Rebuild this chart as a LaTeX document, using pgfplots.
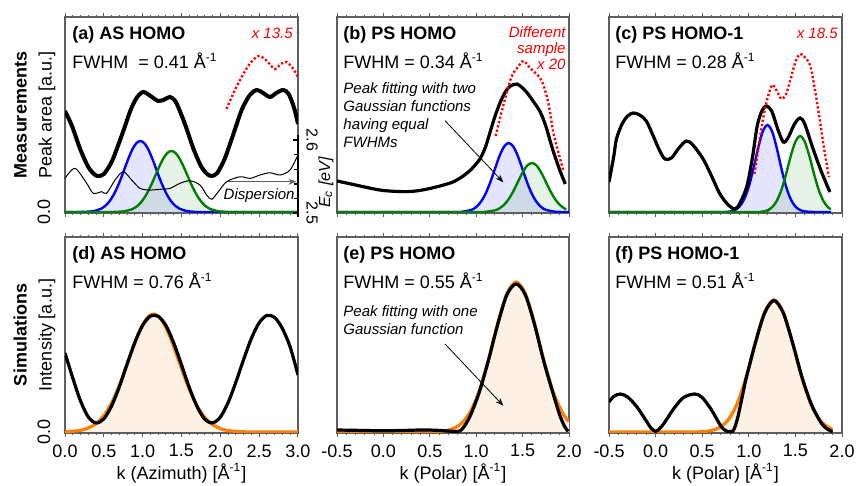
\documentclass[border=0pt]{standalone}
\usepackage{fontspec}
\setmainfont{Liberation Sans}
\usepackage{pgfplots}
\pgfplotsset{compat=1.18}
\usetikzlibrary{arrows.meta}
\definecolor{frame}{RGB}{95,95,95}
\definecolor{mblue}{RGB}{0,0,255}
\definecolor{mgreen}{RGB}{0,128,0}
\definecolor{morange}{RGB}{255,128,0}
\definecolor{bfill}{RGB}{0,0,255}
\definecolor{gfill}{RGB}{0,128,0}
\definecolor{ofill}{RGB}{253,240,228}
\newcommand{\fnt}{\fontsize{9}{12.5}\selectfont}
\newcommand{\sfnt}{\fontsize{7.5}{9}\selectfont}
\pgfplotsset{
  panel/.style={
    scale only axis, width=116.5pt, height=98pt, anchor=south west,
    axis line style={frame, line width=0.6pt},
    tick style={frame, line width=0.5pt},
    tick align=outside, xtick pos=both,
    major tick length=2.2pt, minor tick length=1.2pt,
    minor x tick num=4,
    ymin=-1, ymax=195,
    ytick=\empty,
    every tick label/.append style={font=\fnt},
    xticklabel style={/pgf/number format/fixed, /pgf/number format/fixed zerofill, /pgf/number format/precision=1, /pgf/number format/assume math mode=true},
    yticklabel style={/pgf/number format/fixed, /pgf/number format/fixed zerofill, /pgf/number format/precision=1, /pgf/number format/assume math mode=true},
    label style={font=\fnt},
    x label style={at={(rel axis cs:0.5,0)}, anchor=center, yshift=-20pt},
  },
  firstcol/.style={
    ytick={0}, ytick pos=left, ytick style={draw=none},
    yticklabel style={rotate=90, anchor=south, inner sep=0pt},
    yticklabel shift=5pt,
    y label style={at={(rel axis cs:-0.04,0.5)}, anchor=south, inner sep=0pt, align=center, rotate=0},
  },
  azi/.style={xmin=0, xmax=3, xtick={0,0.5,...,3}},
  pol/.style={xmin=-0.5, xmax=2, xtick={-0.5,0,...,2}},
  blk/.style={black, line width=1.6pt, smooth},
  dots/.style={red, line width=1.2pt, dash pattern=on 1.1pt off 1.1pt, smooth},
  gb/.style={mblue, line width=1.2pt, smooth},
  gg/.style={mgreen, line width=1.2pt, smooth},
  gbf/.style={draw=none, fill=bfill, fill opacity=0.1, smooth},
  ggf/.style={draw=none, fill=gfill, fill opacity=0.1, smooth},
  gof/.style={draw=none, fill=ofill, smooth},
  go/.style={morange, line width=1.6pt, smooth},
}
\begin{document}
\begin{tikzpicture}
\path[use as bounding box] (0,0) rectangle (428pt,243pt);

% ---------------- (a) ----------------
\begin{axis}[panel, firstcol, azi, at={(32.5pt,136.5pt)}, xticklabels={},
  ylabel={\textbf{Measurements}\\Peak area [a.u.]}]
\addplot[gbf] coordinates {(0,0) (0.17,0) (0.27,0.2) (0.37,0.9) (0.47,3.5) (0.52,6.2) (0.57,10.4) (0.62,16.3) (0.67,24.1) (0.72,33.4) (0.77,43.9) (0.82,54.2) (0.87,63.0) (0.92,68.9) (0.97,71) (1.02,68.9) (1.07,63.0) (1.12,54.2) (1.17,43.9) (1.22,33.4) (1.27,24.1) (1.32,16.3) (1.37,10.4) (1.42,6.2) (1.47,3.5) (1.57,0.9) (1.67,0.2) (1.77,0) (3,0)} \closedcycle;
\addplot[ggf] coordinates {(0,0) (0.57,0) (0.67,0.17) (0.77,0.8) (0.87,3.0) (0.92,5.3) (0.97,8.9) (1.02,14.0) (1.07,20.7) (1.12,28.7) (1.17,37.7) (1.22,46.5) (1.27,54.1) (1.32,59.2) (1.37,61) (1.42,59.2) (1.47,54.1) (1.52,46.5) (1.57,37.7) (1.62,28.7) (1.67,20.7) (1.72,14.0) (1.77,8.9) (1.82,5.3) (1.87,3.0) (1.97,0.8) (2.07,0.17) (2.17,0) (3,0)} \closedcycle;
\addplot[gb] coordinates {(0,0) (0.17,0) (0.27,0.2) (0.37,0.9) (0.47,3.5) (0.52,6.2) (0.57,10.4) (0.62,16.3) (0.67,24.1) (0.72,33.4) (0.77,43.9) (0.82,54.2) (0.87,63.0) (0.92,68.9) (0.97,71) (1.02,68.9) (1.07,63.0) (1.12,54.2) (1.17,43.9) (1.22,33.4) (1.27,24.1) (1.32,16.3) (1.37,10.4) (1.42,6.2) (1.47,3.5) (1.57,0.9) (1.67,0.2) (1.77,0) (3,0)};
\addplot[gg] coordinates {(0,0) (0.57,0) (0.67,0.17) (0.77,0.8) (0.87,3.0) (0.92,5.3) (0.97,8.9) (1.02,14.0) (1.07,20.7) (1.12,28.7) (1.17,37.7) (1.22,46.5) (1.27,54.1) (1.32,59.2) (1.37,61) (1.42,59.2) (1.47,54.1) (1.52,46.5) (1.57,37.7) (1.62,28.7) (1.67,20.7) (1.72,14.0) (1.77,8.9) (1.82,5.3) (1.87,3.0) (1.97,0.8) (2.07,0.17) (2.17,0) (3,0)};
\addplot[blk, line width=2pt] coordinates {(0,101) (0.05,93) (0.1,84) (0.2,62) (0.3,45) (0.38,37.5) (0.43,36) (0.5,38) (0.6,50) (0.7,70) (0.76,83) (0.85,103) (0.93,115) (1.01,120) (1.1,116) (1.2,111) (1.28,112.5) (1.35,115) (1.42,111) (1.5,97) (1.567,83) (1.65,64) (1.75,46) (1.83,38) (1.89,36) (1.96,39) (2.05,52) (2.12,67) (2.19,83) (2.28,103) (2.38,117) (2.47,122) (2.55,119) (2.64,115) (2.72,119) (2.81,122) (2.88,118) (2.95,104) (3.0,88)};
\addplot[dots] coordinates {(2.08,103) (2.2,124) (2.35,145) (2.45,154) (2.51,156) (2.6,151) (2.7,143) (2.78,148) (2.85,150) (2.93,144) (3.0,135)};
\draw[-{Stealth[length=4pt,width=3pt]}, frame, line width=0.7pt] (axis cs:2.08,30.3) -- (axis cs:2.98,30.3);
\node[font=\itshape\sfnt, inner sep=0pt] at (axis cs:2.5,16) {Dispersion};
\node[anchor=west, inner sep=0pt, font=\bfseries\fnt] at (rel axis cs:0.03,0.908) {(a) AS HOMO};
\node[anchor=west, inner sep=0pt, font=\fnt] at (rel axis cs:0.03,0.776) {FWHM\ \ = 0.41 Å\textsuperscript{-1}};
\node[anchor=east, inner sep=0pt, text=red, font=\itshape\sfnt] at (rel axis cs:0.979,0.918) {x 13.5};
\end{axis}

% E_c axis
\begin{axis}[scale only axis, width=116.5pt, height=41pt, at={(32.5pt,134.5pt)}, anchor=south west,
  xmin=0, xmax=3, ymin=2.4945, ymax=2.607,
  axis x line=none, axis y line*=right,
  y axis line style={black, line width=1.2pt, -},
  ytick={2.5,2.6}, minor ytick={2.52,2.54,2.56,2.58},
  tick align=inside, ytick style={black, line width=0.7pt},
  major tick length=2.5pt, minor tick length=2pt,
  yticklabel shift=3pt,
  yticklabel style={rotate=-90, anchor=south, inner sep=1pt, font=\fontsize{8}{9}\selectfont,
    /pgf/number format/fixed, /pgf/number format/fixed zerofill, /pgf/number format/precision=1, /pgf/number format/assume math mode=true},
  ylabel={\itshape E\textsubscript{c} [eV]},
  ylabel style={font=\fontsize{8}{9}\selectfont, at={(rel axis cs:1.12,0.42)}, anchor=center, inner sep=0pt},
  clip=false]
\addplot[black, line width=0.5pt, smooth] coordinates {(0,2.5475) (0.129,2.5612) (0.279,2.5407) (0.364,2.5270) (0.473,2.5292) (0.537,2.5270) (0.644,2.5452) (0.751,2.5566) (0.859,2.5452) (0.966,2.5338) (1.094,2.5315) (1.223,2.5325) (1.352,2.5338) (1.481,2.5407) (1.609,2.5442) (1.738,2.5384) (1.824,2.5247) (1.889,2.5188) (1.974,2.5292) (2.082,2.5429) (2.253,2.5497) (2.382,2.5475) (2.511,2.5521) (2.640,2.5552) (2.768,2.5521) (2.897,2.5589) (3.0,2.5795)};
\end{axis}

% ---------------- (b) ----------------
\begin{axis}[panel, pol, at={(168.5pt,136.5pt)}, width=116pt, xticklabels={}]
\addplot[gbf] coordinates {(-0.5,0) (0.75,0) (0.85,0.3) (0.95,2.2) (1.0,5.0) (1.05,10.1) (1.1,18.1) (1.15,29.3) (1.2,42.6) (1.25,55.7) (1.3,65.4) (1.35,69) (1.4,65.4) (1.45,55.7) (1.5,42.6) (1.55,29.3) (1.6,18.1) (1.65,10.1) (1.7,5.0) (1.75,2.2) (1.85,0.3) (1.95,0) (2,0)} \closedcycle;
\addplot[ggf] coordinates {(-0.5,0) (1.0,0) (1.1,0.2) (1.2,1.6) (1.25,3.6) (1.3,7.2) (1.35,12.9) (1.4,20.8) (1.45,30.3) (1.5,39.5) (1.55,46.5) (1.6,49) (1.65,46.5) (1.7,39.5) (1.75,30.3) (1.8,20.8) (1.85,12.9) (1.9,7.2) (1.95,3.6) (1.97,2.6)} \closedcycle;
\addplot[gb] coordinates {(-0.5,0) (0.75,0) (0.85,0.3) (0.95,2.2) (1.0,5.0) (1.05,10.1) (1.1,18.1) (1.15,29.3) (1.2,42.6) (1.25,55.7) (1.3,65.4) (1.35,69) (1.4,65.4) (1.45,55.7) (1.5,42.6) (1.55,29.3) (1.6,18.1) (1.65,10.1) (1.7,5.0) (1.75,2.2) (1.85,0.3) (1.95,0) (2,0)};
\addplot[gg] coordinates {(-0.5,0) (1.0,0) (1.1,0.2) (1.2,1.6) (1.25,3.6) (1.3,7.2) (1.35,12.9) (1.4,20.8) (1.45,30.3) (1.5,39.5) (1.55,46.5) (1.6,49) (1.65,46.5) (1.7,39.5) (1.75,30.3) (1.8,20.8) (1.85,12.9) (1.9,7.2) (1.95,3.6) (1.97,2.6)};
\addplot[blk] coordinates {(-0.5,31) (-0.3,27) (-0.1,23) (0.0,21.5) (0.15,20.5) (0.3,20.5) (0.45,22.5) (0.61,26) (0.75,30) (0.86,36) (0.95,43) (1.04,53) (1.1,65) (1.15,80) (1.2,95) (1.26,110) (1.32,121) (1.37,126) (1.44,128) (1.5,124) (1.55,119) (1.62,110) (1.69,100) (1.75,86) (1.8,70) (1.84,58) (1.9,42) (1.96,28)};
\addplot[dots] coordinates {(1.21,76) (1.29,106) (1.38,135) (1.45,145) (1.51,151) (1.58,144) (1.67,136) (1.72,128) (1.78,108) (1.83,80) (1.89,58) (1.94,41)};
\draw[-{Stealth[length=4pt,width=3pt]}, black, line width=0.4pt] (axis cs:0.664,91.3) -- (axis cs:1.292,29.7);
\node[anchor=west, inner sep=0pt, font=\bfseries\fnt] at (rel axis cs:0.026,0.908) {(b) PS HOMO};
\node[anchor=west, inner sep=0pt, font=\fnt] at (rel axis cs:0.026,0.776) {FWHM = 0.34 Å\textsuperscript{-1}};
\node[anchor=north east, align=right, inner sep=0pt, text=red, font=\itshape\fontsize{7.5}{8}\selectfont] at (rel axis cs:0.987,0.955) {Different\\sample\\x 20};
\node[anchor=north west, align=left, inner sep=0pt, font=\itshape\fontsize{7.5}{9}\selectfont] at (rel axis cs:0.026,0.668) {Peak fitting with two\\Gaussian functions\\having equal\\FWHMs};
\end{axis}

% ---------------- (c) ----------------
\begin{axis}[panel, pol, at={(304.5pt,136.5pt)}, xticklabels={}]
\addplot[gbf] coordinates {(-0.5,0) (0.7,0) (0.8,0.6) (0.85,2.0) (0.9,5.4) (0.95,12.7) (1.0,25.4) (1.05,43.5) (1.1,63.9) (1.15,80.6) (1.2,87) (1.25,80.6) (1.3,63.9) (1.35,43.5) (1.4,25.4) (1.45,12.7) (1.5,5.4) (1.55,2.0) (1.6,0.6) (1.7,0) (1.88,0)} \closedcycle;
\addplot[ggf] coordinates {(-0.5,0) (1.05,0) (1.15,0.5) (1.2,1.7) (1.25,4.75) (1.3,11.1) (1.35,22.2) (1.4,38) (1.45,55.9) (1.5,70.4) (1.55,76) (1.6,70.4) (1.65,55.9) (1.7,38) (1.75,22.2) (1.8,11.1) (1.85,4.75) (1.88,2.8)} \closedcycle;
\addplot[gb] coordinates {(-0.5,0) (0.7,0) (0.8,0.6) (0.85,2.0) (0.9,5.4) (0.95,12.7) (1.0,25.4) (1.05,43.5) (1.1,63.9) (1.15,80.6) (1.2,87) (1.25,80.6) (1.3,63.9) (1.35,43.5) (1.4,25.4) (1.45,12.7) (1.5,5.4) (1.55,2.0) (1.6,0.6) (1.7,0) (1.88,0)};
\addplot[gg] coordinates {(-0.5,0) (1.05,0) (1.15,0.5) (1.2,1.7) (1.25,4.75) (1.3,11.1) (1.35,22.2) (1.4,38) (1.45,55.9) (1.5,70.4) (1.55,76) (1.6,70.4) (1.65,55.9) (1.7,38) (1.75,22.2) (1.8,11.1) (1.85,4.75) (1.88,2.8)};
\addplot[blk] coordinates {(-0.5,30) (-0.45,55) (-0.42,73) (-0.36,88) (-0.3,96) (-0.24,99) (-0.17,97) (-0.1,91) (-0.03,77) (0.04,62) (0.1,53) (0.17,54) (0.25,64) (0.33,71) (0.4,67) (0.51,53) (0.6,36) (0.69,18) (0.78,7) (0.85,3) (0.9,8) (0.98,26) (1.04,55) (1.09,86) (1.14,101) (1.19,106) (1.25,100) (1.31,83) (1.37,70) (1.42,74) (1.49,88) (1.55,94) (1.6,88) (1.69,63) (1.78,40) (1.87,20)};
\addplot[dots] coordinates {(1.06,38) (1.1,62) (1.14,86) (1.19,110) (1.25,127) (1.3,121) (1.35,113) (1.4,118) (1.44,130) (1.5,150) (1.55,158) (1.6,155) (1.66,146) (1.71,122) (1.76,93) (1.81,62) (1.86,35)};
\node[anchor=west, inner sep=0pt, font=\bfseries\fnt] at (rel axis cs:0.026,0.908) {(c) PS HOMO-1};
\node[anchor=west, inner sep=0pt, font=\fnt] at (rel axis cs:0.026,0.776) {FWHM = 0.28 Å\textsuperscript{-1}};
\node[anchor=east, inner sep=0pt, text=red, font=\itshape\sfnt] at (rel axis cs:0.983,0.918) {x 18.5};
\end{axis}

% ---------------- (d) ----------------
\begin{axis}[panel, firstcol, azi, at={(32.5pt,26.5pt)},
  ylabel={\textbf{Simulations}\\Intensity [a.u.]},
  xlabel={k (Azimuth) [Å\textsuperscript{-1}]}]
\addplot[gof] coordinates {(0,0.3) (0.14,1.0) (0.24,2.4) (0.34,5.5) (0.44,11.2) (0.54,21.0) (0.64,35.5) (0.74,54.8) (0.84,76.6) (0.94,97.4) (1.04,112.5) (1.14,118) (1.24,112.5) (1.34,97.4) (1.44,76.6) (1.54,54.8) (1.64,35.5) (1.74,21.0) (1.84,11.2) (1.94,5.5) (2.04,2.4) (2.14,1.0) (2.34,0.1) (2.64,0) (3,0)} \closedcycle;
\addplot[go] coordinates {(0,0.3) (0.14,1.0) (0.24,2.4) (0.34,5.5) (0.44,11.2) (0.54,21.0) (0.64,35.5) (0.74,54.8) (0.84,76.6) (0.94,97.4) (1.04,112.5) (1.14,118) (1.24,112.5) (1.34,97.4) (1.44,76.6) (1.54,54.8) (1.64,35.5) (1.74,21.0) (1.84,11.2) (1.94,5.5) (2.04,2.4) (2.14,1.0) (2.34,0.1) (2.64,0) (3,0)};
\addplot[blk] coordinates {(0,79) (0.1,54) (0.2,31) (0.3,15) (0.4,9) (0.5,13.1) (0.6,26) (0.7,45.3) (0.8,68) (0.9,89.7) (1.0,106.7) (1.1,115.9) (1.2,115.7) (1.3,106.4) (1.4,89) (1.5,67.2) (1.6,44.6) (1.7,25.5) (1.8,12.7) (1.9,9.1) (2.0,14.9) (2.1,29.4) (2.2,49.8) (2.3,72.5) (2.4,93.6) (2.5,109.2) (2.6,116.6) (2.7,114.5) (2.8,103.3) (2.9,84.8) (3.0,57)};
\node[anchor=west, inner sep=0pt, font=\bfseries\fnt] at (rel axis cs:0.03,0.908) {(d) AS HOMO};
\node[anchor=west, inner sep=0pt, font=\fnt] at (rel axis cs:0.03,0.776) {FWHM = 0.76 Å\textsuperscript{-1}};
\end{axis}

% ---------------- (e) ----------------
\begin{axis}[panel, pol, at={(168.5pt,26.5pt)}, width=116pt,
  xlabel={k (Polar) [Å\textsuperscript{-1}]}]
\addplot[gof] coordinates {(-0.5,0) (0.33,0) (0.43,0.05) (0.53,0.2) (0.63,0.8) (0.73,2.6) (0.83,7.7) (0.93,19.1) (1.03,40.2) (1.13,71.4) (1.23,107.9) (1.33,138.2) (1.43,150) (1.53,138.2) (1.63,107.9) (1.73,71.4) (1.83,40.2) (1.93,19.1) (2.0,10.3)} \closedcycle;
\addplot[go] coordinates {(-0.5,0) (0.33,0) (0.43,0.05) (0.53,0.2) (0.63,0.8) (0.73,2.6) (0.83,7.7) (0.93,19.1) (1.03,40.2) (1.13,71.4) (1.23,107.9) (1.33,138.2) (1.43,150) (1.53,138.2) (1.63,107.9) (1.73,71.4) (1.83,40.2) (1.93,19.1) (2.0,10.3)};
\addplot[blk] coordinates {(-0.5,2) (-0.2,1.5) (0.0,1.2) (0.2,1.5) (0.4,2) (0.55,1.8) (0.7,1) (0.8,0.5) (0.85,3) (0.93,15) (1.03,39) (1.13,71) (1.23,107) (1.33,137) (1.43,148) (1.53,137) (1.63,107) (1.73,70) (1.83,38) (1.9,17) (1.95,6) (1.99,0.5)};
\draw[-{Stealth[length=4pt,width=3pt]}, black, line width=0.4pt] (axis cs:0.664,88) -- (axis cs:1.292,26.3);
\node[anchor=west, inner sep=0pt, font=\bfseries\fnt] at (rel axis cs:0.026,0.908) {(e) PS HOMO};
\node[anchor=west, inner sep=0pt, font=\fnt] at (rel axis cs:0.026,0.776) {FWHM = 0.55 Å\textsuperscript{-1}};
\node[anchor=north west, align=left, inner sep=0pt, font=\itshape\fontsize{7.5}{9}\selectfont] at (rel axis cs:0.026,0.65) {Peak fitting with one\\Gaussian function};
\end{axis}

% ---------------- (f) ----------------
\begin{axis}[panel, pol, at={(304.5pt,26.5pt)},
  xlabel={k (Polar) [Å\textsuperscript{-1}]}]
\addplot[gof] coordinates {(-0.5,0) (0.37,0) (0.47,0.24) (0.57,1.0) (0.67,3.8) (0.77,11.2) (0.87,27.2) (0.97,54.3) (1.07,89.0) (1.17,119.6) (1.27,132) (1.37,119.6) (1.47,89.0) (1.57,54.3) (1.67,27.2) (1.77,11.2) (1.87,3.8) (1.9,2.8)} \closedcycle;
\addplot[go] coordinates {(-0.5,0) (0.37,0) (0.47,0.24) (0.57,1.0) (0.67,3.8) (0.77,11.2) (0.87,27.2) (0.97,54.3) (1.07,89.0) (1.17,119.6) (1.27,132) (1.37,119.6) (1.47,89.0) (1.57,54.3) (1.67,27.2) (1.77,11.2) (1.87,3.8) (1.9,2.8)};
\addplot[blk] coordinates {(-0.5,30) (-0.45,35.5) (-0.38,38) (-0.3,35) (-0.2,25) (-0.1,11) (-0.05,4) (0.0,0.7) (0.05,4) (0.1,10) (0.2,24) (0.3,34.5) (0.42,38) (0.5,34.5) (0.6,22) (0.7,6) (0.76,1) (0.83,1) (0.88,14) (0.94,40) (0.97,53) (1.07,89) (1.17,119) (1.27,131.5) (1.37,119) (1.47,89) (1.57,55) (1.67,28) (1.77,10) (1.84,3) (1.9,0.5)};
\node[anchor=west, inner sep=0pt, font=\bfseries\fnt] at (rel axis cs:0.026,0.908) {(f) PS HOMO-1};
\node[anchor=west, inner sep=0pt, font=\fnt] at (rel axis cs:0.026,0.776) {FWHM = 0.51 Å\textsuperscript{-1}};
\end{axis}
\end{tikzpicture}
\end{document}
